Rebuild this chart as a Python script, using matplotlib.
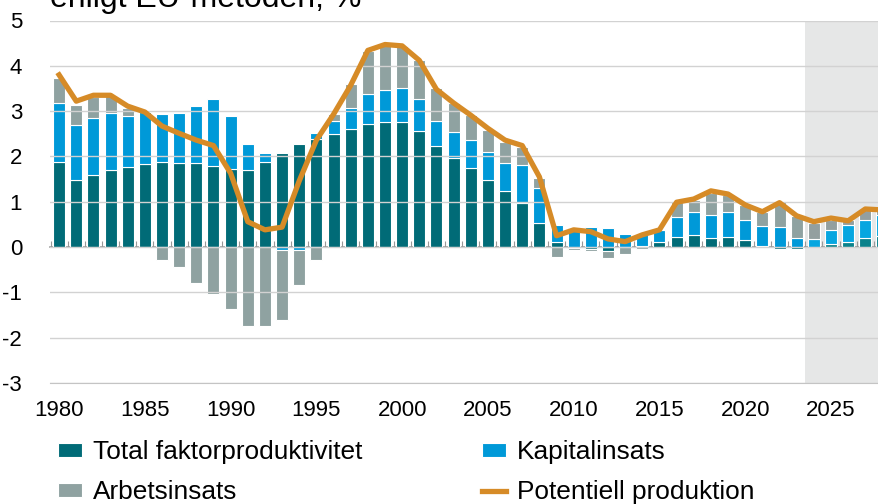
import matplotlib
matplotlib.use("Agg")
import matplotlib.pyplot as plt
import numpy as np

plt.rcParams['font.family'] = ['Liberation Sans', 'DejaVu Sans']
plt.rcParams['axes.unicode_minus'] = False

years = list(range(1980, 2029))

# bidrag, procentenheter
tfp = [1.88, 1.48, 1.59, 1.69, 1.77, 1.83, 1.87, 1.85, 1.85, 1.79,
       1.72, 1.70, 1.87, 2.07, 2.27, 2.38, 2.49, 2.60, 2.71, 2.76,
       2.76, 2.56, 2.24, 1.97, 1.74, 1.47, 1.23, 0.97, 0.53, 0.11,
       -0.02, -0.05, -0.08, 0.01, 0.02, 0.12, 0.23, 0.26, 0.20, 0.22,
       0.15, 0.02, -0.04, -0.04, 0.01, 0.06, 0.12, 0.20, 0.25]
kapital = [1.29, 1.21, 1.26, 1.26, 1.13, 1.14, 1.06, 1.10, 1.27, 1.47,
           1.18, 0.57, 0.21, -0.07, -0.07, 0.14, 0.30, 0.48, 0.66, 0.71,
           0.74, 0.70, 0.55, 0.57, 0.62, 0.63, 0.63, 0.84, 0.78, 0.38,
           0.42, 0.44, 0.42, 0.28, 0.27, 0.26, 0.44, 0.51, 0.51, 0.55,
           0.45, 0.45, 0.45, 0.20, 0.17, 0.31, 0.36, 0.39, 0.46]
arbete = [0.57, 0.45, 0.46, 0.38, 0.18, -0.02, -0.28, -0.45, -0.79, -1.04,
          -1.37, -1.75, -1.74, -1.55, -0.76, -0.29, 0.14, 0.51, 0.95, 0.98,
          0.94, 0.87, 0.71, 0.63, 0.55, 0.48, 0.46, 0.40, 0.22, -0.22,
          -0.04, -0.03, -0.16, -0.15, -0.04, 0.01, 0.32, 0.27, 0.48, 0.38,
          0.32, 0.31, 0.55, 0.49, 0.36, 0.23, 0.11, 0.22, 0.11]
potentiell = [3.80, 3.22, 3.35, 3.35, 3.11, 2.98, 2.67, 2.51, 2.36, 2.24,
              1.63, 0.56, 0.38, 0.44, 1.46, 2.36, 2.93, 3.57, 4.34, 4.47,
              4.44, 4.12, 3.48, 3.18, 2.91, 2.62, 2.36, 2.24, 1.55, 0.25,
              0.38, 0.34, 0.18, 0.12, 0.27, 0.38, 0.99, 1.06, 1.24, 1.17,
              0.93, 0.78, 0.98, 0.69, 0.56, 0.64, 0.58, 0.84, 0.82]

prognos_start = 2023.5

series = [
    ("Total faktorproduktivitet", tfp, "#016b77", "#0a828b"),
    ("Kapitalinsats", kapital, "#0099d8", "#06a6e0"),
    ("Arbetsinsats", arbete, "#8fa2a1", "#939f9f"),
]

fig = plt.figure(figsize=(8.79, 5.04), dpi=100)
ax = fig.add_axes([50 / 879, 1 - 383 / 504, 1 - 50 / 879, (383 - 20.5) / 504])

ax.axvspan(prognos_start, 2030, color="#e6e7e7", zorder=0, lw=0)

x = np.array(years)
pos = np.zeros(len(years))
neg = np.zeros(len(years))
for name, vals, col, col_f in series:
    v = np.array(vals)
    bottom = np.where(v >= 0, pos, neg)
    colors = [col_f if y > prognos_start else col for y in years]
    ax.bar(x, v, 0.7, bottom=bottom, color=colors, edgecolor="white",
           linewidth=0.8, zorder=2, label=name)
    pos = pos + np.where(v >= 0, v, 0)
    neg = neg + np.where(v < 0, v, 0)

ax.plot(x, potentiell, color="#d68b27", lw=3.8, zorder=4,
        solid_joinstyle="round", label="Potentiell produktion")

ax.set_xlim(1979.47, 2027.8)
ax.set_ylim(-3, 5)
ax.set_yticks(range(-3, 6))
ax.set_xticks(range(1980, 2030, 5))
ax.yaxis.grid(True, color="#d2d2d2", lw=1, zorder=1)
ax.set_axisbelow(False)
for s in ["top", "right", "left"]:
    ax.spines[s].set_visible(False)
ax.spines["bottom"].set_color("#c4c4c4")
ax.tick_params(axis="y", length=0, pad=20, labelsize=16)
ax.tick_params(axis="x", length=0, pad=12, labelsize=16)

# nollinje med små streck mellan åren
sec = ax.secondary_xaxis(3 / 8)
sec.set_xticks(np.arange(1979.5, 2028, 1))
sec.tick_params(direction="in", length=4, color="#999999", labelbottom=False)
sec.spines["bottom"].set_color("#8a8a8a")
sec.spines["bottom"].set_linewidth(1.1)

fig.text(50 / 879, 1 - 7 / 504, "enligt EU-metoden, %", fontsize=23,
         va="baseline", ha="left")

h, l = ax.get_legend_handles_labels()
order = [1, 3, 2, 0]
fig.legend([h[i] for i in order], [l[i] for i in order], ncol=2,
           loc="upper left", bbox_to_anchor=(58 / 879, 1 - 440 / 504),
           frameon=False, fontsize=18.9, handlelength=0.91, handleheight=0.46,
           handletextpad=0.42, columnspacing=4.57, labelspacing=0.62,
           borderpad=0, borderaxespad=0)

fig.savefig("out.png", dpi=100)
